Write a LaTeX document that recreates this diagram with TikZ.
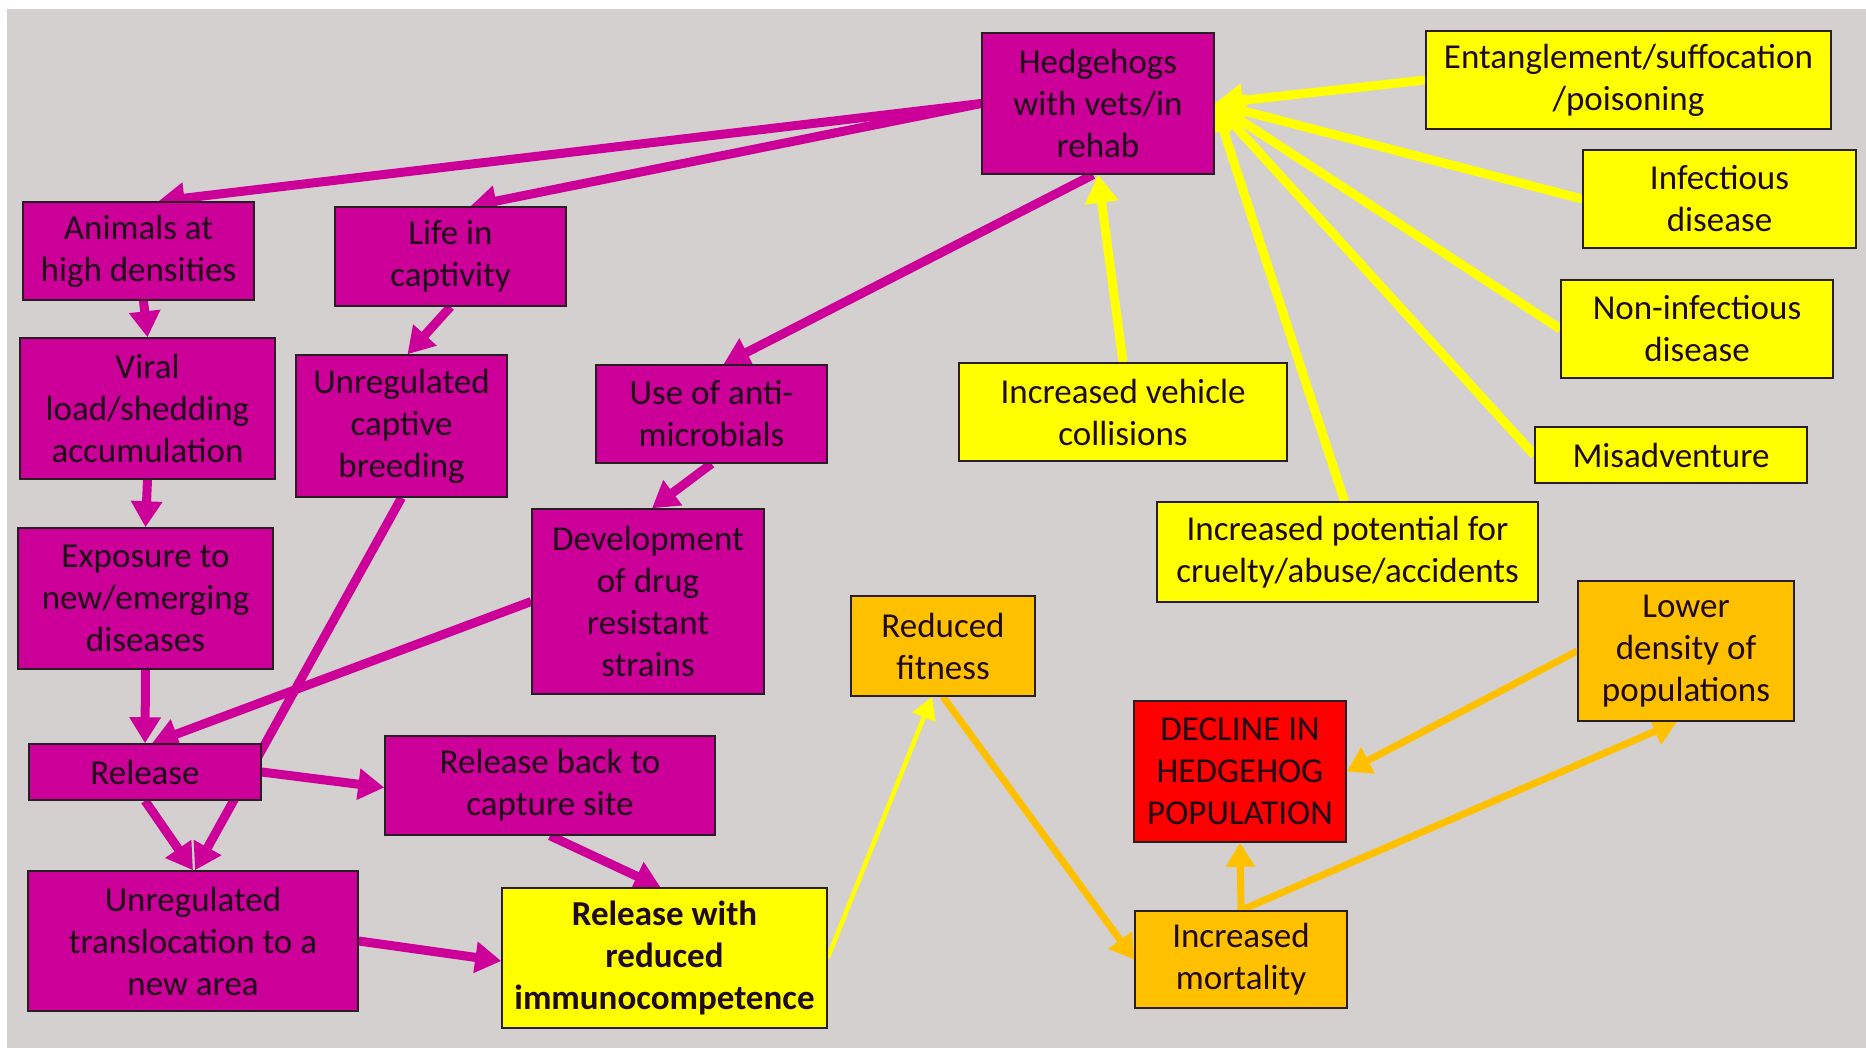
\documentclass[tikz,border=0pt]{standalone}
\usepackage{fontspec}
\setmainfont{Carlito}
\usetikzlibrary{arrows.meta,calc}
\definecolor{bggray}{RGB}{212,208,208}
\definecolor{mag}{RGB}{204,0,153}
\definecolor{yel}{RGB}{255,255,0}
\definecolor{org}{RGB}{255,192,0}
\definecolor{redbox}{RGB}{255,0,0}
\definecolor{boxedge}{RGB}{40,30,35}
\definecolor{txt}{RGB}{30,10,25}
\pgfdeclarelayer{bglayer}
\pgfdeclarelayer{edgelayer}
\pgfsetlayers{bglayer,edgelayer,main}
\begin{document}
\begin{tikzpicture}[x=1pt,y=-1pt,
  box/.style={draw=boxedge, line width=1.5pt, inner sep=0pt, align=center,
    font=\fontsize{35}{42}\selectfont, text=txt},
  magbox/.style={box, fill=mag},
  yelbox/.style={box, fill=yel},
  orgbox/.style={box, fill=org},
  rednode/.style={box, fill=redbox},
  mline/.style={draw=mag, line width=9pt, -{Triangle[length=26pt,width=30pt]}},
  yline/.style={draw=yel, line width=9pt, -{Triangle[length=28pt,width=32pt]}},
  ythin/.style={draw=yel, line width=4.5pt, -{Triangle[length=22pt,width=24pt]}},
  oline/.style={draw=org, line width=7pt, -{Triangle[length=24pt,width=28pt]}},
]
\useasboundingbox (0,0) rectangle (1866,1048);
\begin{pgfonlayer}{bglayer}
  \fill[white] (0,0) rectangle (1866,1048);
  \fill[bggray] (7,9) rectangle (1866,1048);
\end{pgfonlayer}

% magenta nodes
\node[magbox, minimum width=232pt, minimum height=141pt] (hedge) at (1098,103.5) {Hedgehogs\\with vets/in\\rehab};
\node[magbox, minimum width=231pt, minimum height=98pt] (anim) at (138.5,251) {Animals at\\high densities};
\node[magbox, minimum width=231pt, minimum height=99pt] (life) at (450.5,256.5) {Life in\\captivity};
\node[magbox, minimum width=255pt, minimum height=141pt] (viral) at (147.5,408.5) {Viral\\load/shedding\\accumulation};
\node[magbox, minimum width=211pt, minimum height=142pt] (breed) at (401.5,426) {Unregulated\\captive\\breeding};
\node[magbox, minimum width=231pt, minimum height=98pt] (anti) at (711.5,414) {Use of anti-\\microbials};
\node[magbox, minimum width=255pt, minimum height=141pt] (expo) at (145.5,598.5) {Exposure to\\new/emerging\\diseases};
\node[magbox, minimum width=232pt, minimum height=185pt] (devel) at (648,601.5) {Development\\of drug\\resistant\\strains};
\node[magbox, minimum width=232pt, minimum height=56pt] (release) at (145,772) {Release};
\node[magbox, minimum width=330pt, minimum height=99pt] (relback) at (550,785.5) {Release back to\\capture site};
\node[magbox, minimum width=330pt, minimum height=140pt] (transl) at (193,941) {Unregulated\\translocation to a\\new area};

% yellow nodes
\node[yelbox, minimum width=325pt, minimum height=140pt] (rri) at (664.5,958) {\textbf{Release with}\\\textbf{reduced}\\\textbf{immunocompetence}};
\node[yelbox, minimum width=405pt, minimum height=98pt] (ent) at (1628.5,80) {Entanglement/suffocation\\/poisoning};
\node[yelbox, minimum width=273pt, minimum height=98pt] (inf) at (1719.5,199) {Infectious\\disease};
\node[yelbox, minimum width=272pt, minimum height=98pt] (noninf) at (1697,329) {Non-infectious\\disease};
\node[yelbox, minimum width=272pt, minimum height=56pt] (misadv) at (1671,455) {Misadventure};
\node[yelbox, minimum width=328pt, minimum height=98pt] (vehicle) at (1123,412) {Increased vehicle\\collisions};
\node[yelbox, minimum width=381pt, minimum height=100pt] (cruelty) at (1347.5,552) {Increased potential for\\cruelty/abuse/accidents};

% orange / red nodes
\node[orgbox, minimum width=184pt, minimum height=100pt] (fitness) at (943,646) {Reduced\\fitness};
\node[orgbox, minimum width=216pt, minimum height=140pt] (lower) at (1686,651) {Lower\\density of\\populations};
\node[orgbox, minimum width=212pt, minimum height=97pt] (mort) at (1241,959.5) {Increased\\mortality};
\node[rednode, minimum width=212pt, minimum height=141pt] (decline) at (1240,771.5) {DECLINE IN\\HEDGEHOG\\POPULATION};

\begin{pgfonlayer}{edgelayer}
  % magenta connectors
  \draw[mline] (hedge.west) -- ([xshift=20pt]anim.north);
  \draw[mline] (hedge.west) -- ([xshift=20pt]life.north);
  \draw[mline] ([xshift=-5pt]hedge.south) -- ([xshift=12pt]anti.north);
  \draw[mline] ([xshift=5pt]anim.south) -- (viral.north);
  \draw[mline] (life.south) -- ([xshift=6pt]breed.north);
  \draw[mline] (anti.south) -- ([xshift=4pt]devel.north);
  \draw[mline] (viral.south) -- (expo.north);
  \draw[mline] (expo.south) -- (release.north);
  \draw[mline] (devel.west) -- ([xshift=7pt]release.north);
  \draw[mline] (breed.south) -- ([xshift=2pt]transl.north);
  \draw[mline] (release.south) -- (transl.north);
  \draw[mline] (release.east) -- ([yshift=-2pt]relback.west);
  \draw[mline] (relback.south) -- ([xshift=-4pt]rri.north);
  \draw[mline] (transl.east) -- ([yshift=-3pt]rri.west);
  % yellow connectors
  \draw[yline] (ent.west) -- (hedge.east);
  \draw[yline] (inf.west) -- (hedge.east);
  \draw[yline] (noninf.west) -- (hedge.east);
  \draw[yline] (misadv.west) -- (hedge.east);
  \draw[yline] ([xshift=-3pt]cruelty.north) -- (hedge.east);
  \draw[yline] (vehicle.north) -- (hedge.south);
  \draw[ythin] (rri.east) -- ([xshift=-11pt]fitness.south);
  % orange connectors
  \draw[oline] (fitness.south) -- (mort.west);
  \draw[oline] (mort.north) -- (decline.south);
  \draw[oline] (mort.north) -- ([xshift=-9pt]lower.south);
  \draw[oline] (lower.west) -- (decline.east);
\end{pgfonlayer}
\end{tikzpicture}
\end{document}
